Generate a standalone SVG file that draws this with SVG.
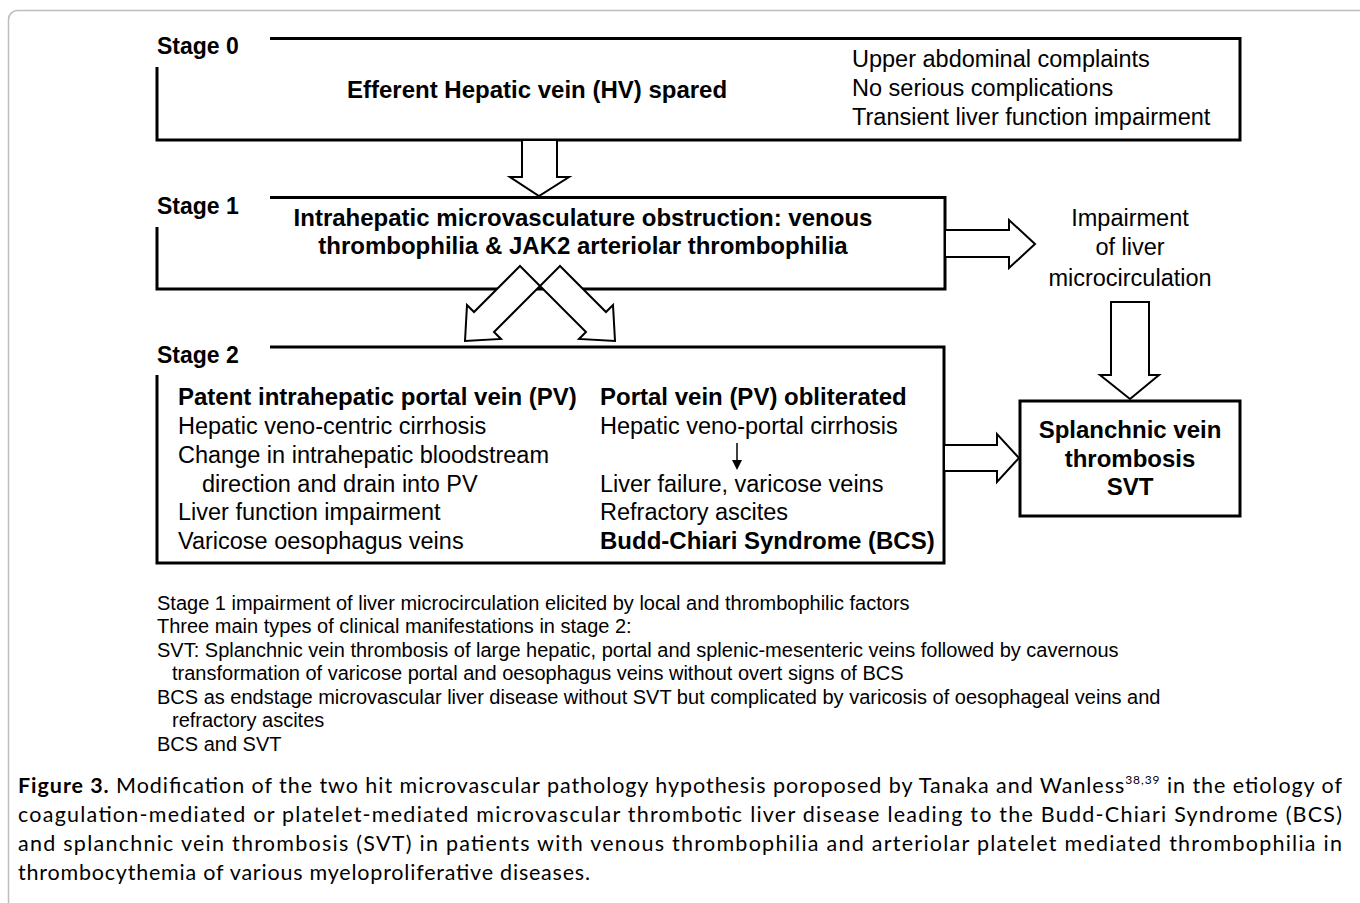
<svg xmlns="http://www.w3.org/2000/svg" width="1360" height="903" viewBox="0 0 1360 903">
<style>
.box{fill:none;stroke:#000;stroke-width:3;stroke-linejoin:miter}
.arr{fill:#fff;stroke:#000;stroke-width:2;stroke-linejoin:miter}
text{font-family:"Liberation Sans",Arial,sans-serif;fill:#000}
.lbl{font-size:23px;font-weight:bold}
.b{font-size:24px;font-weight:bold}
.r{font-size:23.5px}
.c{text-anchor:middle}
.n{font-size:20px}
.cap{font-family:Lato,"Liberation Sans",sans-serif;font-size:21.5px}
</style>
<rect x="8.5" y="10.5" width="1400" height="1000" rx="9" fill="#fff" stroke="#bdbdbd" stroke-width="1.5"/>

<g id="stage0">
<text class="lbl" x="157" y="54">Stage 0</text>
<path class="box" d="M270 38.5 H1240 V140 H157 V67"/>
<text class="b" x="347" y="98">Efferent Hepatic vein (HV) spared</text>
<text class="r" x="852" y="67">Upper abdominal complaints</text>
<text class="r" x="852" y="96">No serious complications</text>
<text class="r" x="852" y="125">Transient liver function impairment</text>
</g>

<g id="stage1">
<text class="lbl" x="157" y="214">Stage 1</text>
<path class="box" d="M270 197.5 H945 V289 H157 V227"/>
<text class="b c" x="583" y="226">Intrahepatic microvasculature obstruction: venous</text>
<text class="b c" x="583" y="254">thrombophilia &amp; JAK2 arteriolar thrombophilia</text>
</g>

<g id="impairment">
<text class="r c" x="1130" y="226">Impairment</text>
<text class="r c" x="1130" y="255">of liver</text>
<text class="r c" x="1130" y="286">microcirculation</text>
</g>

<g id="stage2">
<text class="lbl" x="157" y="363">Stage 2</text>
<path class="box" d="M270 347 H944 V563 H157 V375"/>
<text class="b" x="178" y="405">Patent intrahepatic portal vein (PV)</text>
<text class="r" x="178" y="434">Hepatic veno-centric cirrhosis</text>
<text class="r" x="178" y="463">Change in intrahepatic bloodstream</text>
<text class="r" x="202" y="492">direction and drain into PV</text>
<text class="r" x="178" y="520">Liver function impairment</text>
<text class="r" x="178" y="549">Varicose oesophagus veins</text>
<text class="b" x="600" y="405">Portal vein (PV) obliterated</text>
<text class="r" x="600" y="434">Hepatic veno-portal cirrhosis</text>
<text class="r" x="600" y="492">Liver failure, varicose veins</text>
<text class="r" x="600" y="520">Refractory ascites</text>
<text class="b" x="600" y="549">Budd-Chiari Syndrome (BCS)</text>
</g>

<g id="svt">
<rect class="box" x="1020" y="401" width="220" height="115"/>
<text class="b c" x="1130" y="438">Splanchnic vein</text>
<text class="b c" x="1130" y="467">thrombosis</text>
<text class="b c" x="1130" y="495">SVT</text>
</g>

<g id="connectors">
<polygon class="arr" points="522,140 557,140 557,177 569,177 539,196 510,177 522,177"/>
<polygon class="arr" points="520,266 540,286 494,332 501,339 465,341 467,305 474,312"/>
<polygon class="arr" points="560,266 540,286 586,332 579,339 615,341 613,305 606,312"/>
<polygon class="arr" points="945,230 1009,230 1009,220 1035,244 1009,268 1009,257 945,257"/>
<polygon class="arr" points="1111,302 1149,302 1149,375 1159,375 1130,399 1100,375 1111,375"/>
<polygon class="arr" points="944,445 997,445 997,434 1019,458 997,482 997,471 944,471"/>
<line x1="737" y1="443" x2="737" y2="461" stroke="#000" stroke-width="1.5"/>
<polygon points="732,460 742,460 737,470" fill="#000"/>
</g>

<g id="notes">
<text class="n" x="157" y="610">Stage 1 impairment of liver microcirculation elicited by local and thrombophilic factors</text>
<text class="n" x="157" y="633">Three main types of clinical manifestations in stage 2:</text>
<text class="n" x="157" y="657">SVT: Splanchnic vein thrombosis of large hepatic, portal and splenic-mesenteric veins followed by cavernous</text>
<text class="n" x="172" y="680">transformation of varicose portal and oesophagus veins without overt signs of BCS</text>
<text class="n" x="157" y="704">BCS as endstage microvascular liver disease without SVT but complicated by varicosis of oesophageal veins and</text>
<text class="n" x="172" y="727">refractory ascites</text>
<text class="n" x="157" y="751">BCS and SVT</text>
</g>

<g id="caption">
<text class="cap" x="18" y="793" textLength="1324" lengthAdjust="spacing"><tspan font-weight="bold">Figure 3.</tspan> Modification of the two hit microvascular pathology hypothesis poroposed by Tanaka and Wanless<tspan font-size="12" dy="-9">38,39</tspan><tspan dy="9"> in the etiology of</tspan></text>
<text class="cap" x="18" y="822" textLength="1324" lengthAdjust="spacing">coagulation-mediated or platelet-mediated microvascular thrombotic liver disease leading to the Budd-Chiari Syndrome (BCS)</text>
<text class="cap" x="18" y="851" textLength="1324" lengthAdjust="spacing">and splanchnic vein thrombosis (SVT) in patients with venous thrombophilia and arteriolar platelet mediated thrombophilia in</text>
<text class="cap" x="18" y="880" textLength="572" lengthAdjust="spacing">thrombocythemia of various myeloproliferative diseases.</text>
</g>
</svg>
